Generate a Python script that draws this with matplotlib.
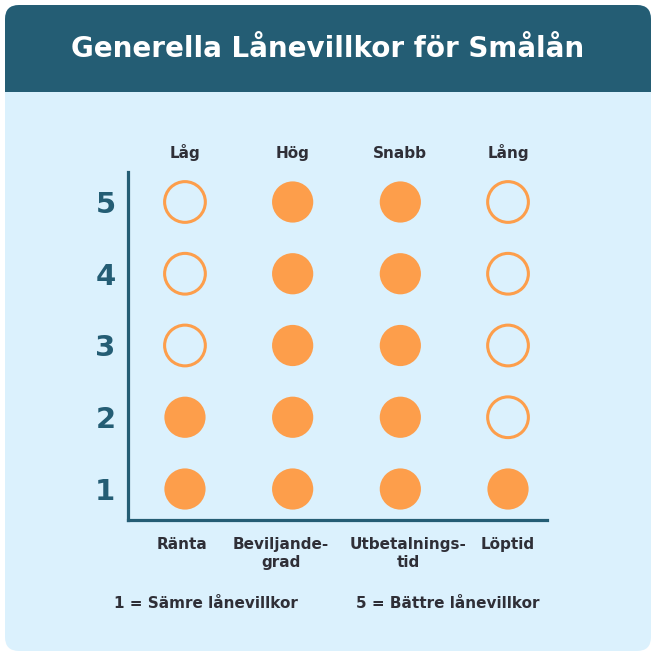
import matplotlib
matplotlib.use("Agg")
import matplotlib.pyplot as plt
from matplotlib.patches import FancyBboxPatch, Rectangle
from matplotlib.transforms import ScaledTranslation

# ---- data ----
title = "Generella Lånevillkor för Smålån"
categories = ["Ränta", "Beviljande-\ngrad", "Utbetalnings-\ntid", "Löptid"]
top_labels = ["Låg", "Hög", "Snabb", "Lång"]
scores = [2, 5, 5, 1]          # number of filled circles (from level 1 upward)
levels = [1, 2, 3, 4, 5]
footnote_low = "1 = Sämre lånevillkor"
footnote_high = "5 = Bättre lånevillkor"

# ---- style ----
TEAL = "#245d74"
BODY = "#dbf1fd"
ORANGE = "#fd9e4b"
DARK = "#2f2f37"
FONT = "DejaVu Sans"
label_shift_px = [-3, -12, 8, 0]   # small horizontal nudges of the bottom labels

W = H = 655
fig = plt.figure(figsize=(6.55, 6.55), dpi=100)
fig.patch.set_facecolor("white")

# background / card axes in pixel coordinates
bg = fig.add_axes([0, 0, 1, 1])
bg.set_xlim(0, W)
bg.set_ylim(H, 0)
bg.axis("off")
card_x0, card_y0, card_x1, card_y1 = 5, 5, 651, 651
r = 14
bg.add_patch(FancyBboxPatch((card_x0 + r, card_y0 + r), card_x1 - card_x0 - 2 * r, card_y1 - card_y0 - 2 * r,
                            boxstyle=f"round,pad={r}", fc=BODY, ec="none"))
bg.add_patch(FancyBboxPatch((card_x0 + r, card_y0 + r), card_x1 - card_x0 - 2 * r, 110 - card_y0 - 2 * r,
                            boxstyle=f"round,pad={r}", fc=TEAL, ec="none"))
bg.add_patch(Rectangle((card_x0, 92), card_x1 - card_x0, 30, fc=BODY, ec="none"))
bg.text(W / 2, 49, title, color="white", fontsize=20, fontweight="bold", family=FONT,
        ha="center", va="center")
bg.text(206, 603, footnote_low, color=DARK, fontsize=11, fontweight="bold", family=FONT,
        ha="center", va="center")
bg.text(448, 603, footnote_high, color=DARK, fontsize=11, fontweight="bold", family=FONT,
        ha="center", va="center")

# data axes: left spine at x=128px, bottom spine at y=520px, top at 172px, right at 547px
ax_l, ax_r, ax_t, ax_b = 128, 547, 172, 520
ax = fig.add_axes([ax_l / W, 1 - ax_b / H, (ax_r - ax_l) / W, (ax_b - ax_t) / H])
ax.set_facecolor("none")
ax.set_xlim(-0.529, 3.362)
ax.set_ylim(0.568, 5.418)

top_off = ScaledTranslation(0, 0.11, fig.dpi_scale_trans)
for i, sc in enumerate(scores):
    filled = [lv for lv in levels if lv <= sc]
    empty = [lv for lv in levels if lv > sc]
    ax.scatter([i] * len(filled), filled, s=880, c=ORANGE, edgecolors="none", zorder=3)
    ax.scatter([i] * len(empty), empty, s=860, facecolors="none", edgecolors=ORANGE,
               linewidths=2.2, zorder=3)
    ax.text(i, 1.0, top_labels[i], transform=ax.get_xaxis_transform() + top_off,
            ha="center", va="bottom", fontsize=11, fontweight="bold", color=DARK,
            family=FONT)

for s in ["top", "right"]:
    ax.spines[s].set_visible(False)
for s in ["left", "bottom"]:
    ax.spines[s].set_color(TEAL)
    ax.spines[s].set_linewidth(2.3)

ax.set_xticks(range(len(categories)))
ax.set_xticklabels(categories, fontsize=11, fontweight="bold", color=DARK, family=FONT,
                   linespacing=1.3, va="top")
ax.set_yticks(levels)
ax.set_yticklabels([str(v) for v in levels], fontsize=21, fontweight="bold", color=TEAL,
                   family=FONT)
ax.tick_params(axis="both", length=0)
ax.tick_params(axis="y", pad=9)
ax.tick_params(axis="x", pad=12)

for lbl, dx in zip(ax.get_xticklabels(), label_shift_px):
    lbl.set_transform(lbl.get_transform() + ScaledTranslation(dx / 100, 0, fig.dpi_scale_trans))

fig.savefig("out.png", dpi=100, facecolor="white")
